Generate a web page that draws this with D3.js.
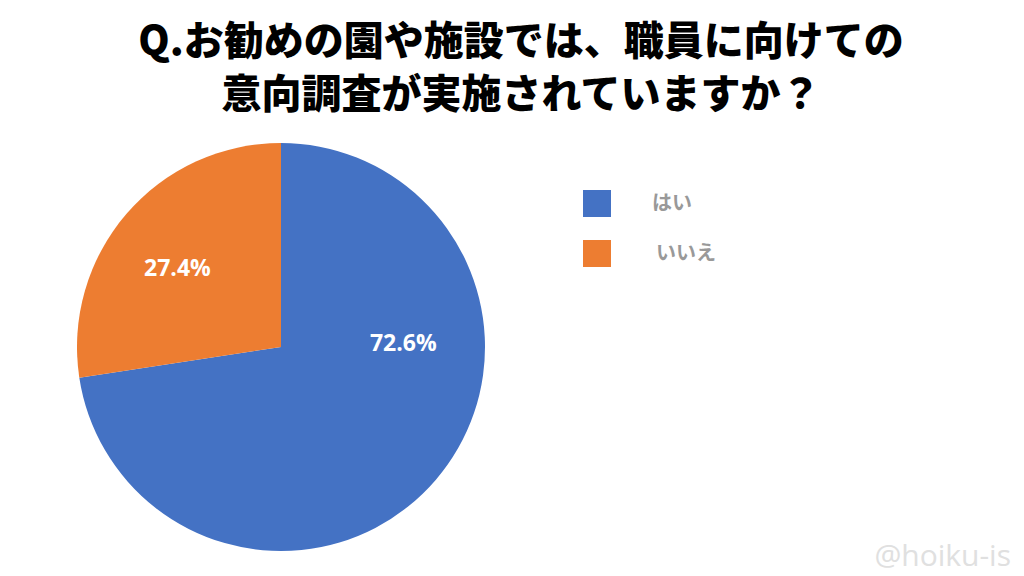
<!DOCTYPE html>
<html><head><meta charset="utf-8">
<script src="https://cdn.jsdelivr.net/npm/d3@7"></script>
<style>html,body{margin:0;padding:0;background:#fff;}svg{display:block;}</style>
</head><body>
<svg id="c" width="1024" height="576"></svg>
<script>
const titleLines = ["Q.お勧めの園や施設では、職員に向けての", "意向調査が実施されていますか？"];
const categories = ["はい", "いいえ"];
const values = [72.6, 27.4];
const colors = ["#4472C4", "#ED7D31"];
const watermark = "@hoiku-is";

const svg = d3.select("#c");
svg.append("rect").attr("width",1024).attr("height",576).attr("fill","#fff");

svg.selectAll("text.title").data(titleLines).enter().append("text")
  .attr("class","title")
  .attr("x",521).attr("y",(d,i)=>55+i*53)
  .attr("text-anchor","middle")
  .attr("font-family","'Noto Sans CJK JP'").attr("font-weight",900)
  .attr("font-size",40).attr("fill","#000")
  .text(d=>d);

const cx=281, cy=347, r=204;
const pie = d3.pie().sort(null).value(d=>d);
const arcs = pie(values);
const arc = d3.arc().innerRadius(0).outerRadius(r);
const g = svg.append("g").attr("transform",`translate(${cx},${cy})`);
g.selectAll("path").data(arcs).enter().append("path")
  .attr("d",arc).attr("fill",(d,i)=>colors[i]);
// label placement (angle in degrees clockwise from top, radius fraction)
const labelPos = [{a:88, f:0.60}, {a:307.5, f:0.64}];
g.selectAll("text").data(arcs).enter().append("text")
  .attr("transform",(d,i)=>{
    const a = labelPos[i].a*Math.PI/180, rr = labelPos[i].f*r;
    return `translate(${rr*Math.sin(a)},${-rr*Math.cos(a)})`;
  })
  .attr("text-anchor","middle").attr("dy","0.36em")
  .attr("font-family","'Open Sans'").attr("font-weight",700)
  .attr("font-size",23).attr("fill","#fff")
  .text(d=>d.data.toFixed(1)+"%");

const leg = svg.selectAll("g.leg").data(categories).enter().append("g")
  .attr("class","leg").attr("transform",(d,i)=>`translate(583,${190+i*50})`);
leg.append("rect").attr("width",28).attr("height",27).attr("fill",(d,i)=>colors[i]);
leg.append("text").attr("x",(d,i)=>i===0?69:73).attr("y",13).attr("dy","0.35em")
  .attr("font-family","'Noto Sans CJK JP'").attr("font-weight",700)
  .attr("font-size",20).attr("fill","#999").text(d=>d);

svg.append("text").attr("x",1011).attr("y",566).attr("text-anchor","end")
  .attr("font-family","'Open Sans'").attr("font-size",30).attr("fill","#e0e0e0")
  .text(watermark);
</script>
</body></html>
